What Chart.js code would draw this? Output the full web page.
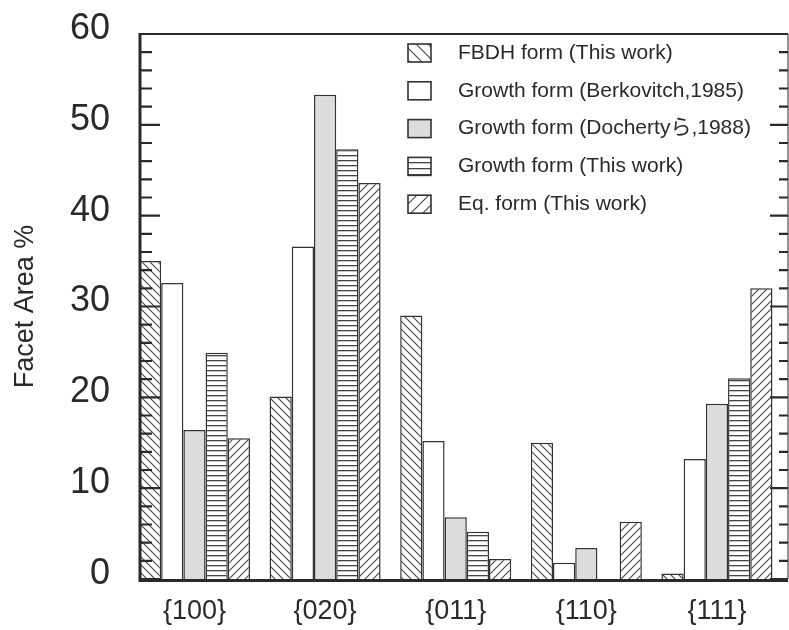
<!DOCTYPE html>
<html>
<head>
<meta charset="utf-8">
<script src="https://cdn.jsdelivr.net/npm/chart.js@4.4.1/dist/chart.umd.min.js"></script>
<style>
  html, body { margin: 0; padding: 0; background: #fff; }
</style>
</head>
<body>
<canvas id="facetChart" width="789" height="630"></canvas>
<script>
const categories = ['{100}', '{020}', '{011}', '{110}', '{111}'];
const seriesLabels = [
    'FBDH form (This work)',
    'Growth form (Berkovitch,1985)',
    'Growth form (Dochertyら,1988)',
    'Growth form (This work)',
    'Eq. form (This work)'
];
const fbdhForm = [35.0, 20.1, 29.0, 15.0, 0.6];
const growthBerkovitch = [32.6, 36.6, 15.2, 1.8, 13.2];
const growthDocherty = [16.4, 53.3, 6.8, 3.4, 19.3];
const growthThisWork = [24.9, 47.3, 5.2, 0, 22.1];
const eqForm = [15.5, 43.6, 2.2, 6.3, 32.0];
const yTicks = [0, 10, 20, 30, 40, 50, 60];

const FONT = '"Liberation Sans", Arial, "Noto Sans CJK JP", sans-serif';
const INK = '#2a2a2a';

// hatch fills, s = line spacing of the tile
function makePattern(kind, s) {
    const c = document.createElement('canvas');
    const p = c.getContext('2d');
    if (kind === 'horiz') {
        c.width = 8; c.height = s;
        p.fillStyle = '#fff'; p.fillRect(0, 0, 8, s);
        p.fillStyle = '#444'; p.fillRect(0, 0, 8, 1.3);
    } else if (kind === 'gray') {
        c.width = 4; c.height = 4;
        p.fillStyle = '#dedede'; p.fillRect(0, 0, 4, 4);
        p.fillStyle = '#d0d0d0'; p.fillRect(0, 0, 1, 1); p.fillRect(2, 2, 1, 1);
    } else if (kind === 'white') {
        return '#ffffff';
    } else {
        c.width = s; c.height = s;
        p.fillStyle = '#fff'; p.fillRect(0, 0, s, s);
        p.strokeStyle = '#444'; p.lineWidth = 1.1;
        p.beginPath();
        if (kind === 'back') {
            p.moveTo(0, 0); p.lineTo(s, s);
            p.moveTo(-1, s - 1); p.lineTo(1, s + 1);
            p.moveTo(s - 1, -1); p.lineTo(s + 1, 1);
        } else {
            p.moveTo(0, s); p.lineTo(s, 0);
            p.moveTo(-1, 1); p.lineTo(1, -1);
            p.moveTo(s - 1, s + 1); p.lineTo(s + 1, s - 1);
        }
        p.stroke();
    }
    return document.getElementById('facetChart').getContext('2d').createPattern(c, 'repeat');
}

const kinds = ['back', 'white', 'gray', 'horiz', 'fwd'];
const fills = kinds.map(k => makePattern(k, k === 'horiz' ? 5 : 8));
const legendFills = kinds.map(k => makePattern(k, k === 'horiz' ? 6 : 12));
const allSeries = [fbdhForm, growthBerkovitch, growthDocherty, growthThisWork, eqForm];

const toPoints = arr => arr.map((v, i) => ({ x: i, y: v }));

// frame + inward ticks, drawn over the bars
const frameTicks = {
    id: 'frameTicks',
    afterDatasetsDraw(chart) {
        const { ctx, chartArea: a, scales: { y } } = chart;
        ctx.save();
        ctx.strokeStyle = INK;
        ctx.lineWidth = 2;
        ctx.beginPath();
        ctx.moveTo(a.left, a.top); ctx.lineTo(a.right, a.top);
        ctx.stroke();
        ctx.lineWidth = 1;
        ctx.beginPath();
        ctx.moveTo(a.right, a.top); ctx.lineTo(a.right, a.bottom);
        ctx.stroke();
        ctx.lineWidth = 3;
        ctx.beginPath();
        ctx.moveTo(a.left, a.top - 1); ctx.lineTo(a.left, a.bottom + 1.5);
        ctx.lineTo(a.right, a.bottom + 1.5);
        ctx.stroke();
        ctx.lineWidth = 2.2;
        for (let v = 0; v <= 60; v += 2) {
            const py = y.getPixelForValue(v);
            const major = yTicks.includes(v);
            ctx.beginPath();
            ctx.moveTo(a.left, py); ctx.lineTo(a.left + (major ? 20 : 12), py);
            ctx.moveTo(a.right, py); ctx.lineTo(a.right - (major ? 18 : 9), py);
            ctx.stroke();
        }
        ctx.restore();
    }
};

// legend inside the plot
const patternLegend = {
    id: 'patternLegend',
    afterDraw(chart) {
        const ctx = chart.ctx;
        ctx.save();
        ctx.font = '21px ' + FONT;
        ctx.textBaseline = 'middle';
        ctx.textAlign = 'left';
        seriesLabels.forEach((label, i) => {
            const cy = 53 + i * 37.8;
            ctx.fillStyle = legendFills[i];
            ctx.fillRect(408, cy - 9, 23, 18);
            ctx.strokeStyle = '#333';
            ctx.lineWidth = 1.6;
            ctx.strokeRect(408, cy - 9, 23, 18);
            ctx.fillStyle = INK;
            ctx.fillText(label, 458, cy);
        });
        ctx.restore();
    }
};

const noEdgePadding = s => {
    s.paddingTop = 0; s.paddingBottom = 0;
    s.paddingLeft = 0; s.paddingRight = 0;
};

new Chart(document.getElementById('facetChart'), {
    type: 'bar',
    data: {
        datasets: allSeries.map((arr, i) => ({
            label: seriesLabels[i],
            data: toPoints(arr),
            backgroundColor: fills[i],
            borderColor: '#333',
            borderWidth: 1.5
        }))
    },
    options: {
        responsive: false,
        animation: false,
        events: [],
        categoryPercentage: 0.85,
        barPercentage: 1.0,
        layout: { padding: { top: 34, right: 1, left: 0, bottom: 0 } },
        plugins: { legend: { display: false }, tooltip: { enabled: false } },
        scales: {
            x: {
                type: 'linear',
                offset: false,
                min: -0.417,
                max: 4.544,
                grid: { display: false, drawTicks: false },
                border: { display: false },
                ticks: {
                    stepSize: 1,
                    includeBounds: false,
                    autoSkip: false,
                    maxRotation: 0,
                    padding: 16,
                    color: INK,
                    font: { size: 27, family: FONT },
                    callback: v => Number.isInteger(v) ? (categories[v] || '') : ''
                },
                afterFit: s => { s.height = 51; noEdgePadding(s); }
            },
            y: {
                min: 0,
                max: 60,
                grid: { display: false, drawTicks: false },
                border: { display: false },
                ticks: {
                    stepSize: 10,
                    padding: 30,
                    labelOffset: -5,
                    color: INK,
                    font: { size: 36, family: FONT }
                },
                title: {
                    display: true,
                    text: 'Facet Area %',
                    color: INK,
                    font: { size: 27, family: FONT },
                    padding: { top: 9, bottom: 0 }
                },
                afterFit: s => { s.width = 140; noEdgePadding(s); }
            }
        }
    },
    plugins: [frameTicks, patternLegend]
});
</script>
</body>
</html>
